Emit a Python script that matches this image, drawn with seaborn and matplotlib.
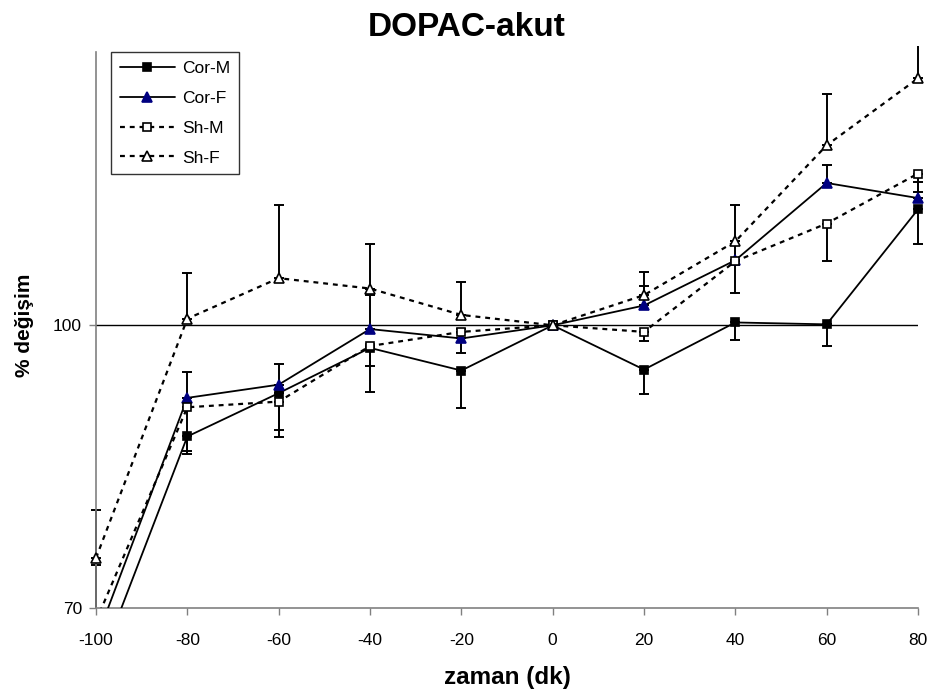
import matplotlib
matplotlib.use("Agg")
import matplotlib.pyplot as plt
from matplotlib.transforms import Bbox, TransformedBbox
import seaborn as sns
import numpy as np

# ---- data ----
time = [-100, -80, -60, -40, -20, 0, 20, 40, 60, 80]
cor_m = [63.0, 88.2, 92.8, 97.6, 95.2, 100.0, 95.3, 100.3, 100.1, 112.3]
cor_m_err = [0.0, 1.5, 4.7, 4.7, 4.0, 0.0, 2.6, 1.9, 2.3, 3.7]      # minus
cor_f = [66.6, 92.3, 93.7, 99.6, 98.6, 100.0, 102.1, 106.9, 115.1, 113.5]
cor_f_err = [8.0, 2.7, 2.2, 3.6, 1.0, 0.0, 2.1, 2.0, 1.9, 1.7]      # plus
sh_m = [68.6, 91.3, 91.9, 97.8, 99.3, 100.0, 99.3, 106.8, 110.8, 116.1]
sh_m_err = [0.0, 5.0, 3.0, 2.1, 2.2, 0.0, 1.0, 3.4, 4.0, 2.0]       # minus
sh_f = [75.3, 100.7, 105.0, 103.9, 101.1, 100.0, 103.2, 108.9, 119.1, 126.2]
sh_f_err = [5.1, 4.8, 7.8, 4.7, 3.5, 0.0, 2.5, 3.9, 5.4, 4.0]       # plus
labels = ["Cor-M", "Cor-F", "Sh-M", "Sh-F"]
x_ticks = [-100, -80, -60, -40, -20, 0, 20, 40, 60, 80]
y_ticks = [70, 100]

sns.set_style("white")
plt.rcParams['font.family'] = ['Liberation Sans', 'DejaVu Sans']
plt.rcParams['text.color'] = 'black'
plt.rcParams['axes.labelcolor'] = 'black'
plt.rcParams['xtick.color'] = 'black'
plt.rcParams['ytick.color'] = 'black'

fig = plt.figure(figsize=(9.33, 6.97), dpi=100)
ax = fig.add_axes([96/933, 1-608/697, (918-96)/933, (608-52)/697])
clipbox = TransformedBbox(Bbox([[-0.03, 0.0], [1.03, 1.01]]), ax.transAxes)

dot = (0, (2.2, 2.2))
series = [
    (cor_m, cor_m_err, 'minus', dict(marker='s', ls='-', mfc='black', mec='black', ms=6)),
    (cor_f, cor_f_err, 'plus', dict(marker='^', ls='-', mfc='#000080', mec='#000080', ms=7)),
    (sh_m, sh_m_err, 'minus', dict(marker='s', ls=dot, mfc='white', mec='black', ms=6)),
    (sh_f, sh_f_err, 'plus', dict(marker='^', ls=dot, mfc='white', mec='black', ms=7)),
]

ax.axhline(100, color='black', lw=1.0, zorder=1)

for (vals, err, direction, st), lab in zip(series, labels):
    z = np.zeros(len(err))
    e = np.array(err)
    yerr = [e, z] if direction == 'minus' else [z, e]
    cont = ax.errorbar(time, vals, yerr=yerr, fmt='none', ecolor='black',
                       elinewidth=1.4, capsize=3.8, capthick=1.4, zorder=2)
    for art in cont.lines[1] + cont.lines[2]:
        art.set_clip_box(clipbox)

for (vals, err, direction, st), lab in zip(series, labels):
    lw = 1.3 if st['ls'] == '-' else 1.6
    sns.lineplot(x=time, y=vals, ax=ax, color='black', linewidth=lw,
                 linestyle=st['ls'], marker=st['marker'],
                 markerfacecolor=st['mfc'], markeredgecolor=st['mec'],
                 markeredgewidth=1.2, markersize=st['ms'], label=lab,
                 sort=False, errorbar=None, zorder=3)
    ax.lines[-1].set_clip_box(clipbox)

ax.set_xlim(-100, 80)
ax.set_ylim(70, 129)
ax.set_xticks(x_ticks)
ax.set_xticklabels([str(t) for t in x_ticks])
ax.set_yticks(y_ticks)
ax.set_yticklabels([str(t) for t in y_ticks])
ax.tick_params(axis='both', direction='out', length=5, width=1.0,
               color='#808080', labelsize=12.5, labelcolor='black',
               bottom=True, left=True)
ax.tick_params(axis='x', pad=13)
ax.tick_params(axis='y', pad=5)

for s in ['top', 'right']:
    ax.spines[s].set_visible(False)
for s in ['left', 'bottom']:
    ax.spines[s].set_color('#808080')
    ax.spines[s].set_linewidth(1.2)

ax.set_xlabel('zaman (dk)', fontsize=17.5, fontweight='bold', labelpad=13)
ax.set_ylabel('% değişim', fontsize=15, fontweight='bold')
ax.yaxis.set_label_coords((34 - 96) / 822, (608 - 325) / 556)
fig.suptitle('DOPAC-akut', fontsize=24, fontweight='bold', x=0.5, y=0.983)

leg = ax.legend(loc='upper left', bbox_to_anchor=(15/822, 1.0), frameon=True,
                fancybox=False, edgecolor='black', fontsize=12.5,
                handlelength=3.2, handletextpad=0.4, labelspacing=0.85,
                borderpad=0.5, borderaxespad=0)
leg.get_frame().set_linewidth(1.0)

fig.savefig('out.png', dpi=100, facecolor='white')
